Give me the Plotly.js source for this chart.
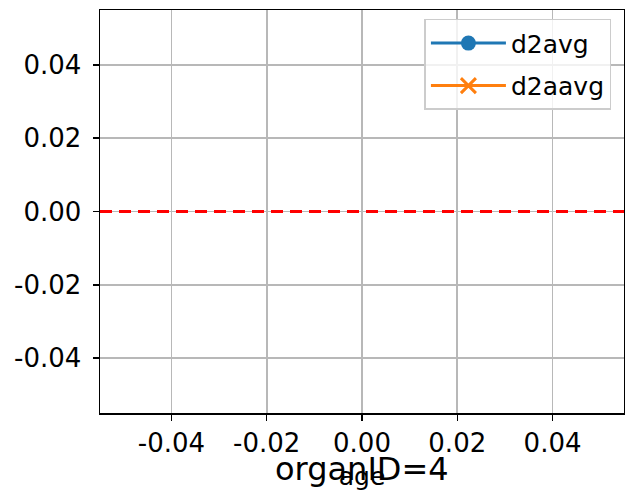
<!DOCTYPE html>
<html>
<head>
<meta charset="utf-8">
<script src="https://cdn.plot.ly/plotly-3.0.1.min.js"></script>
<style>html,body{margin:0;padding:0;background:#fff;} #chart{width:625px;height:491px;}</style>
</head>
<body>
<div id="chart"></div>
<script>
// Data (both series are empty in the reference)
const seriesNames = ["d2avg", "d2aavg"];
const d2avgX = [null];
const d2avgY = [null];
const d2aavgX = [null];
const d2aavgY = [null];
const refLineY = 0;
const xRange = [-0.055, 0.055];
const yRange = [-0.055, 0.055];
const xTickVals = [-0.04, -0.02, 0.00, 0.02, 0.04];
const xTickText = ["-0.04", "-0.02", "0.00", "0.02", "0.04"];
const yTickVals = [-0.04, -0.02, 0.00, 0.02, 0.04];
const yTickText = ["-0.04", "-0.02", "0.00", "0.02", "0.04"];
const xLabel = "age";
const figText = "organID=4";

const font = "DejaVu Sans, sans-serif";

const traces = [
  {x: d2avgX, y: d2avgY, name: seriesNames[0], legendgroup: "g1", type: "scatter", mode: "lines+markers",
   line: {color: "#1f77b4", width: 3}, marker: {symbol: "circle", size: 15, color: "#1f77b4"}},
  {x: d2aavgX, y: d2aavgY, name: seriesNames[1], legendgroup: "g2", type: "scatter", mode: "lines+markers",
   line: {color: "#ff7f0e", width: 3}, marker: {symbol: "x-thin", size: 15, line: {color: "#ff7f0e", width: 3}, color: "#ff7f0e"}},
  {x: xRange, y: [refLineY, refLineY], type: "scatter", mode: "lines", showlegend: false, hoverinfo: "skip",
   line: {color: "red", width: 3, dash: "12px,7px"}}
];

const axisCommon = {
  showline: true, linecolor: "black", linewidth: 1.5, mirror: true,
  ticks: "outside", ticklen: 6, tickwidth: 1.5, tickcolor: "black",
  showgrid: true, gridcolor: "#b8b8b8", gridwidth: 1.6,
  zeroline: false, tickfont: {family: font, size: 26, color: "black"},
  tickmode: "array"
};

const layout = {
  width: 625, height: 491,
  margin: {l: 100, r: 1, t: 10, b: 78},
  paper_bgcolor: "white", plot_bgcolor: "white",
  font: {family: font, color: "black"},
  xaxis: Object.assign({}, axisCommon, {range: xRange, tickvals: xTickVals, ticktext: xTickText,
    title: {text: xLabel, font: {family: font, size: 25}, standoff: 16}}),
  yaxis: Object.assign({}, axisCommon, {range: yRange, tickvals: yTickVals, ticktext: yTickText,
    ticklabelstandoff: 6}),
  legend: {x: 0.976, xanchor: "right", y: 0.978, yanchor: "top",
    bgcolor: "rgba(255,255,255,0.8)", bordercolor: "#cccccc", borderwidth: 1.5,
    font: {family: font, size: 25}, itemwidth: 75, tracegroupgap: 7},
  annotations: [{text: figText, xref: "paper", yref: "paper", x: 0.5, y: -0.14,
    xanchor: "center", yanchor: "middle", showarrow: false, font: {family: font, size: 32, color: "black"}}],
  showlegend: true
};

Plotly.newPlot("chart", traces, layout, {displayModeBar: false, staticPlot: true});
</script>
</body>
</html>
